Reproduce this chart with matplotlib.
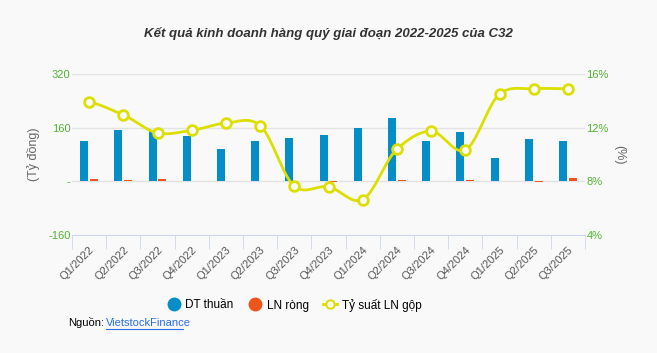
import numpy as np
import matplotlib
matplotlib.use("Agg")
import matplotlib.pyplot as plt
from matplotlib.lines import Line2D

plt.rcParams['font.family'] = ['Liberation Sans', 'DejaVu Sans']

quarters = ["Q1/2022", "Q2/2022", "Q3/2022", "Q4/2022", "Q1/2023", "Q2/2023", "Q3/2023",
            "Q4/2023", "Q1/2024", "Q2/2024", "Q3/2024", "Q4/2024", "Q1/2025", "Q2/2025", "Q3/2025"]
dt_thuan = [120, 154, 150, 136, 96, 120, 129, 139, 160, 188, 120, 148, 71, 126, 120]
ln_rong = [6, 3, 7, 1, 0.5, 1, 1, -2, 1, 3, 1, 3, 1, -2, 10]
ty_suat = [13.9, 12.95, 11.6, 11.8, 12.34, 12.16, 7.64, 7.6, 6.64, 10.4, 11.74, 10.33, 14.5, 14.9, 14.9]

left_ticks = [-160, 0, 160, 320]
left_labels = ["-160", "-", "160", "320"]
right_ticks = [4, 8, 12, 16]
right_labels = ["4%", "8%", "12%", "16%"]

BLUE = "#058DC7"
ORANGE = "#ED561B"
YELLOW = "#DDDF00"
GREEN = "#50B432"
BG = "#F9F9F9"

fig = plt.figure(figsize=(6.57, 3.53), dpi=100, facecolor=BG)
ax = fig.add_axes([72/657, 1-235/353, (585-72)/657, (235-74)/353])
ax.set_facecolor(BG)
x = np.arange(len(quarters))
ax.bar(x - 0.146, dt_thuan, width=0.234, color=BLUE, zorder=3)
ax.bar(x + 0.146, ln_rong, width=0.234, color=ORANGE, zorder=3)
ax.set_xlim(-0.5, len(quarters) - 0.5)
ax.set_ylim(-160, 320)
ax.set_yticks(left_ticks)
ax.set_yticklabels(left_labels)
ax.tick_params(axis='y', length=0, colors=GREEN, labelsize=8, pad=1)
for v in [0, 160, 320]:
    ax.axhline(v, color="#e3e3e3", lw=1, zorder=1)
for s in ['top', 'right', 'left']:
    ax.spines[s].set_visible(False)
ax.spines['bottom'].set_color("#ccd6eb")
ax.set_xticks(x)
ax.set_xticklabels(quarters, rotation=45, ha='right', va='top', rotation_mode='anchor')
ax.tick_params(axis='x', which='major', length=0, colors="#555555", labelsize=8, pad=7)
ax.set_xticks(np.arange(-0.5, len(quarters)), minor=True)
ax.tick_params(axis='x', which='minor', length=10, color="#ccd6eb", direction='out')
ax.set_ylabel("(Tỷ đồng)", color="#666666", fontsize=9, labelpad=6)

ax2 = ax.twinx()
ax2.set_ylim(4, 16)
ax2.set_yticks(right_ticks)
ax2.set_yticklabels(right_labels)
ax2.tick_params(axis='y', length=0, colors=GREEN, labelsize=8, pad=1)
for s in ['top', 'right', 'left', 'bottom']:
    ax2.spines[s].set_visible(False)
# smooth curve through the data points (Hermite spline)
px = np.array(x, dtype=float)
py = np.array(ty_suat, dtype=float)
sx, sy = [], []
for i in range(len(px) - 1):
    p0 = py[i - 1] if i > 0 else py[i]
    p3 = py[i + 2] if i + 2 < len(py) else py[i + 1]
    p1, p2 = py[i], py[i + 1]
    t = np.linspace(0, 1, 20)
    m1 = (p2 - p0) / 2 * 0.9
    m2 = (p3 - p1) / 2 * 0.9
    h00 = 2*t**3 - 3*t**2 + 1
    h10 = t**3 - 2*t**2 + t
    h01 = -2*t**3 + 3*t**2
    h11 = t**3 - t**2
    sx.extend(px[i] + t)
    sy.extend(h00*p1 + h10*m1 + h01*p2 + h11*m2)
ax2.plot(sx, sy, color=YELLOW, lw=2, zorder=4)
ax2.plot(px, py, 'o', ms=7, mfc='white', mec=YELLOW, mew=2, zorder=5)
ax2.set_ylabel("(%)", color="#666666", fontsize=9, rotation=270, labelpad=12)

fig.text(0.5, 1-33/353, "Kết quả kinh doanh hàng quý giai đoạn 2022-2025 của C32",
         ha='center', va='center', fontsize=9.5, fontweight='bold', fontstyle='italic', color="#333333")

handles = [
    Line2D([], [], marker='o', ls='none', ms=9, mfc=BLUE, mec=BLUE),
    Line2D([], [], marker='o', ls='none', ms=9, mfc=ORANGE, mec=ORANGE),
    Line2D([], [], marker='o', color=YELLOW, lw=2, ms=6, mfc='white', mec=YELLOW, mew=1.5),
]
fig.legend(handles, ["DT thuần", "LN ròng", "Tỷ suất LN gộp"], loc='center',
           bbox_to_anchor=(294/657, 1-305/353), ncol=3, frameon=False, fontsize=8.5,
           handlelength=1.2, columnspacing=1.2, handletextpad=0.4)

fig.text(68/657, 1-323/353, "Nguồn:", ha='left', va='center', fontsize=8, color="#000000")
fig.text(106/657, 1-323/353, "VietstockFinance", ha='left', va='center', fontsize=8,
         color="#2a6ee8", url="https://finance.vietstock.vn")
fig.add_artist(Line2D([106/657, 183/657], [1-329/353, 1-329/353], color="#2a6ee8", lw=0.8))

fig.savefig("out.png", dpi=100, facecolor=BG)
